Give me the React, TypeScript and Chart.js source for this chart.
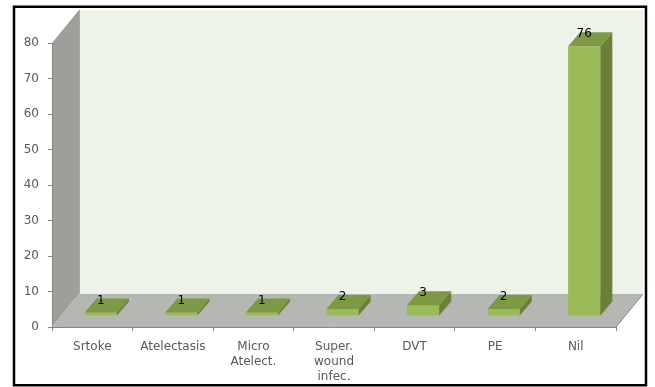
import React, { useEffect, useRef } from "react";
import { Chart, registerables } from "chart.js";

Chart.register(...registerables);

const categories: (string | string[])[] = [
  "Srtoke",
  "Atelectasis",
  ["Micro", "Atelect."],
  ["Super.", "wound", "infec."],
  "DVT",
  "PE",
  "Nil",
];
const counts: number[] = [1, 1, 1, 2, 3, 2, 76];
const yTicks: number[] = [0, 10, 20, 30, 40, 50, 60, 70, 80];

const W = 655;
const H = 387;

// perspective offsets of the 3D box
const WALL_DX = 27;
const WALL_DY = -33;
const BAR_FX = 8.5; // front face shift of the bars into the floor
const BAR_FY = -11;
const BAR_DX = 12; // depth of each bar
const BAR_DY = -14;

const COL_BACK = "#eef3ea";
const COL_SIDE_WALL = "#9d9f9b";
const COL_FLOOR = "#b5b7b2";
const COL_AXIS = "#868686";
const COL_BAR_FRONT = "#9bbb59";
const COL_BAR_SIDE = "#6a7f38";
const COL_BAR_TOP = "#7d9943";

function poly(ctx: CanvasRenderingContext2D, pts: number[][], fill: string) {
  ctx.beginPath();
  ctx.moveTo(pts[0][0], pts[0][1]);
  for (let i = 1; i < pts.length; i++) ctx.lineTo(pts[i][0], pts[i][1]);
  ctx.closePath();
  ctx.fillStyle = fill;
  ctx.fill();
}

const scenePlugin = {
  id: "scene3d",
  beforeDraw(chart: any) {
    const ctx: CanvasRenderingContext2D = chart.ctx;
    const xs = chart.scales.x;
    const ys = chart.scales.y;
    const left = xs.left;
    const right = xs.right;
    const y0 = ys.getPixelForValue(ys.min);
    const yTop = ys.getPixelForValue(ys.max);
    ctx.save();
    ctx.fillStyle = "#ffffff";
    ctx.fillRect(0, 0, chart.width, chart.height);
    // back wall
    poly(
      ctx,
      [
        [left + WALL_DX, yTop + WALL_DY],
        [right + WALL_DX, yTop + WALL_DY],
        [right + WALL_DX, y0 + WALL_DY],
        [left + WALL_DX, y0 + WALL_DY],
      ],
      COL_BACK
    );
    // side wall
    poly(
      ctx,
      [
        [left, y0],
        [left, yTop],
        [left + WALL_DX, yTop + WALL_DY],
        [left + WALL_DX, y0 + WALL_DY],
      ],
      COL_SIDE_WALL
    );
    // floor
    poly(
      ctx,
      [
        [left, y0],
        [right, y0],
        [right + WALL_DX, y0 + WALL_DY],
        [left + WALL_DX, y0 + WALL_DY],
      ],
      COL_FLOOR
    );
    ctx.strokeStyle = "rgba(120,122,118,0.6)";
    ctx.lineWidth = 1;
    ctx.beginPath();
    ctx.moveTo(left + WALL_DX + 0.5, yTop + WALL_DY);
    ctx.lineTo(left + WALL_DX + 0.5, y0 + WALL_DY);
    ctx.stroke();
    ctx.strokeStyle = COL_AXIS;
    ctx.beginPath();
    ctx.moveTo(right, y0);
    ctx.lineTo(right + WALL_DX, y0 + WALL_DY);
    ctx.stroke();
    ctx.restore();
  },
  beforeDatasetsDraw(chart: any) {
    chart.ctx.save();
    chart.ctx.translate(BAR_FX, BAR_FY);
  },
  afterDatasetsDraw(chart: any) {
    const ctx: CanvasRenderingContext2D = chart.ctx;
    ctx.restore();
    const meta = chart.getDatasetMeta(0);
    ctx.save();
    meta.data.forEach((bar: any, i: number) => {
      const { x, y, base, width } = bar.getProps(["x", "y", "base", "width"], true);
      const l = x - width / 2 + BAR_FX;
      const r = x + width / 2 + BAR_FX;
      const t = y + BAR_FY;
      const b = base + BAR_FY;
      poly(
        ctx,
        [
          [r, t],
          [r, b],
          [r + BAR_DX, b + BAR_DY],
          [r + BAR_DX, t + BAR_DY],
        ],
        COL_BAR_SIDE
      );
      poly(
        ctx,
        [
          [l, t],
          [r, t],
          [r + BAR_DX, t + BAR_DY],
          [l + BAR_DX, t + BAR_DY],
        ],
        COL_BAR_TOP
      );
      ctx.fillStyle = "#000000";
      ctx.font = "12px 'DejaVu Sans'";
      ctx.textAlign = "center";
      ctx.textBaseline = "middle";
      ctx.fillText(String(counts[i]), x + BAR_FX, t + BAR_DY + 2);
    });
    ctx.restore();
  },
  afterDraw(chart: any) {
    const ctx: CanvasRenderingContext2D = chart.ctx;
    ctx.save();
    ctx.strokeStyle = "#000000";
    ctx.lineWidth = 2.5;
    ctx.strokeRect(14, 6.75, 632, 378.5);
    ctx.restore();
  },
};

export default function App() {
  const ref = useRef<HTMLCanvasElement | null>(null);

  useEffect(() => {
    if (!ref.current) return;
    const chart = new Chart(ref.current, {
      type: "bar",
      data: {
        labels: categories,
        datasets: [
          {
            data: counts,
            backgroundColor: COL_BAR_FRONT,
            borderWidth: 0,
            barPercentage: 0.4,
            categoryPercentage: 1,
            clip: false as any,
          },
        ],
      },
      options: {
        animation: false,
        responsive: false,
        devicePixelRatio: 1,
        layout: { padding: { left: 0, top: 43, right: 39, bottom: 0 } },
        plugins: {
          legend: { display: false },
          tooltip: { enabled: false },
        },
        scales: {
          x: {
            grid: {
              offset: true,
              drawOnChartArea: false,
              tickLength: 4,
              color: COL_AXIS,
            },
            border: { color: COL_AXIS },
            ticks: {
              autoSkip: false,
              maxRotation: 0,
              minRotation: 0,
              padding: 8,
              color: "#595959",
              font: { family: "DejaVu Sans", size: 12, lineHeight: 1.25 },
            },
            afterFit: (s: any) => {
              s.height = 60;
            },
          },
          y: {
            min: 0,
            max: 80,
            afterBuildTicks: (s: any) => {
              s.ticks = yTicks.map((v) => ({ value: v }));
            },
            grid: {
              drawOnChartArea: false,
              tickLength: 4,
              color: COL_AXIS,
            },
            border: { color: COL_AXIS },
            ticks: {
              padding: 9,
              color: "#595959",
              font: { family: "DejaVu Sans", size: 12 },
            },
            afterFit: (s: any) => {
              s.width = 52;
            },
          },
        },
      },
      plugins: [scenePlugin],
    });
    return () => chart.destroy();
  }, []);

  return (
    <div style={{ position: "absolute", left: 0, top: 0, width: W, height: H }}>
      <canvas ref={ref} width={W} height={H} style={{ display: "block" }} />
    </div>
  );
}
